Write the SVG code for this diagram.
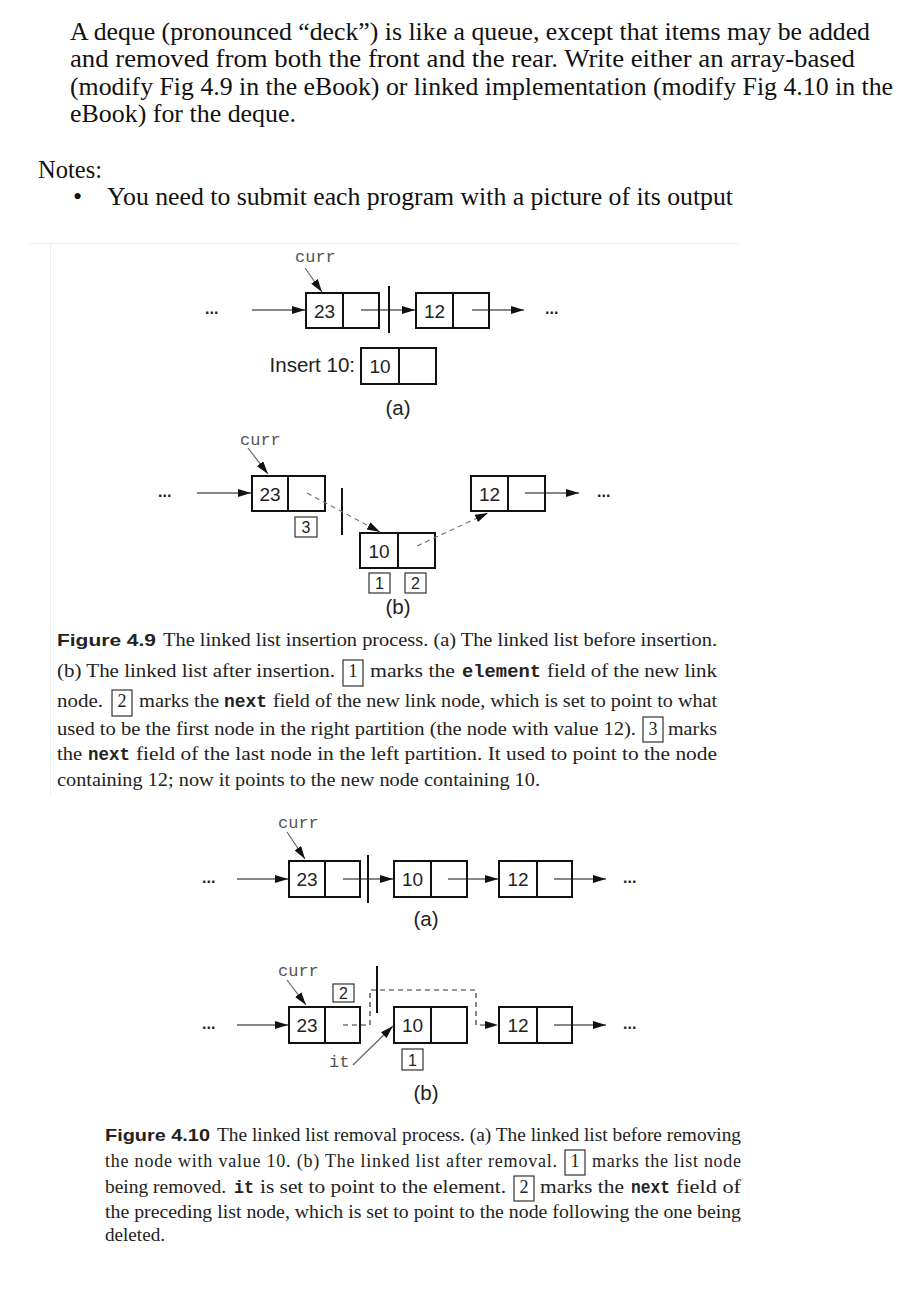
<svg xmlns="http://www.w3.org/2000/svg" width="907" height="1312" viewBox="0 0 907 1312">
<style>
.body{font-family:"Liberation Serif","Times New Roman",serif;font-size:26px;fill:#111}
.cap{font-family:"Liberation Serif","Times New Roman",serif;font-size:18px;fill:#222}
.capb{font-family:"Liberation Sans",Arial,sans-serif;font-size:17px;font-weight:bold;fill:#222}
.capm{font-family:"Liberation Mono","Courier New",monospace;font-size:18px;font-weight:bold;fill:#222}
.lbl{font-family:"Liberation Sans",Arial,sans-serif;font-size:20.5px;fill:#222}
.val{font-family:"Liberation Sans",Arial,sans-serif;font-size:19px;fill:#222;text-anchor:middle}
.sm{font-family:"Liberation Sans",Arial,sans-serif;font-size:16px;fill:#222;text-anchor:middle}
.mono{font-family:"Liberation Mono","Courier New",monospace;font-size:17px;fill:#555}
.dots{font-family:"Liberation Sans",Arial,sans-serif;font-size:16px;font-weight:bold;fill:#222}
.node{fill:#fff;stroke:#111;stroke-width:2}
.div{stroke:#111;stroke-width:2}
.box{fill:#fff;stroke:#333;stroke-width:1.2}
.bar{stroke:#111;stroke-width:2}
.arr{stroke:#111;stroke-width:1.2;fill:none;marker-end:url(#ah)}
.ptr{stroke:#666;stroke-width:1.2;fill:none;marker-end:url(#ah)}
.dash{stroke:#777;stroke-width:1.2;fill:none;stroke-dasharray:5 4;marker-end:url(#ah)}
.dashk{stroke:#333;stroke-width:1.2;fill:none;stroke-dasharray:5 4;marker-end:url(#ah)}
</style>
<defs>
<marker id="ah" viewBox="0 0 13 8" refX="13" refY="4" markerWidth="13" markerHeight="8" markerUnits="userSpaceOnUse" orient="auto">
<path d="M0,0 L13,4 L0,8 z" fill="#111"/>
</marker>
</defs>
<rect width="907" height="1312" fill="#fff"/>

<g id="intro">
<text class="body" x="70" y="40" textLength="800" lengthAdjust="spacingAndGlyphs">A deque (pronounced “deck”) is like a queue, except that items may be added</text>
<text class="body" x="70" y="67" textLength="785" lengthAdjust="spacingAndGlyphs">and removed from both the front and the rear. Write either an array-based</text>
<text class="body" x="70" y="95" textLength="823" lengthAdjust="spacingAndGlyphs">(modify Fig 4.9 in the eBook) or linked implementation (modify Fig 4.10 in the</text>
<text class="body" x="70" y="122" textLength="226" lengthAdjust="spacingAndGlyphs">eBook) for the deque.</text>
<text class="body" x="38" y="178" textLength="64" lengthAdjust="spacingAndGlyphs">Notes:</text>
<text class="body" x="73" y="205">•</text>
<text class="body" x="107" y="205" textLength="626" lengthAdjust="spacingAndGlyphs">You need to submit each program with a picture of its output</text>
</g>

<g id="frame">
<path d="M30,243.5 H738 M50.5,243 V795" stroke="#eeeeee" stroke-width="1" fill="none"/>
</g>

<!-- Figure 4.9 (a) -->
<g id="f49a-curr"><text class="mono" x="295" y="262">curr</text></g>
<g id="f49a-ldots"><text class="dots" x="205" y="314">...</text></g>
<g id="f49a-n23">
<rect class="node" x="306" y="293" width="73" height="35"/><line class="div" x1="343" y1="293" x2="343" y2="328"/>
<text class="val" x="324.5" y="318">23</text></g>
<g id="f49a-bar"><line class="bar" x1="389" y1="286" x2="389" y2="333"/></g>
<g id="f49a-n12">
<rect class="node" x="416" y="293" width="73" height="35"/><line class="div" x1="453" y1="293" x2="453" y2="328"/>
<text class="val" x="434.5" y="318">12</text></g>
<g id="f49a-rdots"><text class="dots" x="545" y="314">...</text></g>
<g id="f49a-insert">
<text class="lbl" x="355" y="372" text-anchor="end">Insert 10:</text>
<rect class="node" x="361" y="348" width="75" height="36"/><line class="div" x1="399" y1="348" x2="399" y2="384"/>
<text class="val" x="380" y="373">10</text></g>
<g id="f49a-label"><text class="lbl" x="398" y="415" text-anchor="middle">(a)</text></g>

<!-- Figure 4.9 (b) -->
<g id="f49b-curr"><text class="mono" x="240" y="445">curr</text></g>
<g id="f49b-ldots"><text class="dots" x="158" y="497">...</text></g>
<g id="f49b-n23">
<rect class="node" x="252" y="476" width="73" height="35"/><line class="div" x1="288" y1="476" x2="288" y2="511"/>
<text class="val" x="270" y="501">23</text></g>
<g id="f49b-box3"><rect class="box" x="295" y="517" width="22" height="20"/><text class="sm" x="306" y="533">3</text></g>
<g id="f49b-bar"><line class="bar" x1="342" y1="488" x2="342" y2="535"/></g>
<g id="f49b-n10">
<rect class="node" x="360" y="533" width="75" height="35"/><line class="div" x1="398" y1="533" x2="398" y2="568"/>
<text class="val" x="379" y="558">10</text></g>
<g id="f49b-box1"><rect class="box" x="369" y="573" width="21" height="20"/><text class="sm" x="379.5" y="589">1</text></g>
<g id="f49b-box2"><rect class="box" x="405" y="573" width="21" height="20"/><text class="sm" x="415.5" y="589">2</text></g>
<g id="f49b-n12">
<rect class="node" x="471" y="476" width="74" height="35"/><line class="div" x1="508" y1="476" x2="508" y2="511"/>
<text class="val" x="489.5" y="501">12</text></g>
<g id="f49b-rdots"><text class="dots" x="597" y="497">...</text></g>
<g id="f49b-label"><text class="lbl" x="398" y="614" text-anchor="middle">(b)</text></g>

<!-- Figure 4.10 (a) -->
<g id="f410a-curr"><text class="mono" x="278" y="828">curr</text></g>
<g id="f410a-ldots"><text class="dots" x="202" y="883">...</text></g>
<g id="f410a-n23">
<rect class="node" x="289" y="861" width="71" height="36"/><line class="div" x1="325" y1="861" x2="325" y2="897"/>
<text class="val" x="307" y="886">23</text></g>
<g id="f410a-bar"><line class="bar" x1="368" y1="855" x2="368" y2="903"/></g>
<g id="f410a-n10">
<rect class="node" x="394" y="861" width="73" height="36"/><line class="div" x1="431" y1="861" x2="431" y2="897"/>
<text class="val" x="412.5" y="886">10</text></g>
<g id="f410a-n12">
<rect class="node" x="499" y="861" width="73" height="36"/><line class="div" x1="537" y1="861" x2="537" y2="897"/>
<text class="val" x="518" y="886">12</text></g>
<g id="f410a-rdots"><text class="dots" x="623" y="883">...</text></g>
<g id="f410a-label"><text class="lbl" x="426" y="926" text-anchor="middle">(a)</text></g>

<!-- Figure 4.10 (b) -->
<g id="f410b-curr"><text class="mono" x="278" y="976">curr</text></g>
<g id="f410b-ldots"><text class="dots" x="202" y="1029">...</text></g>
<g id="f410b-n23">
<rect class="node" x="289" y="1007" width="71" height="36"/><line class="div" x1="325" y1="1007" x2="325" y2="1043"/>
<text class="val" x="307" y="1032">23</text></g>
<g id="f410b-box2"><rect class="box" x="333" y="984" width="21" height="18"/><text class="sm" x="343.5" y="999">2</text></g>
<g id="f410b-bar"><line class="bar" x1="377" y1="966" x2="377" y2="1013"/></g>
<g id="f410b-n10">
<rect class="node" x="394" y="1007" width="73" height="36"/><line class="div" x1="431" y1="1007" x2="431" y2="1043"/>
<text class="val" x="412.5" y="1032">10</text></g>
<g id="f410b-it"><text class="mono" x="329" y="1067">it</text></g>
<g id="f410b-box1"><rect class="box" x="402" y="1049" width="21" height="21"/><text class="sm" x="412.5" y="1066">1</text></g>
<g id="f410b-n12">
<rect class="node" x="499" y="1007" width="73" height="36"/><line class="div" x1="537" y1="1007" x2="537" y2="1043"/>
<text class="val" x="518" y="1032">12</text></g>
<g id="f410b-rdots"><text class="dots" x="623" y="1029">...</text></g>
<g id="f410b-label"><text class="lbl" x="426" y="1100" text-anchor="middle">(b)</text></g>

<g id="connectors">
<line class="ptr" x1="305" y1="268" x2="322" y2="292"/>
<line class="arr" x1="252" y1="310" x2="305" y2="310"/>
<line class="arr" x1="361" y1="310" x2="415" y2="310"/>
<line class="arr" x1="472" y1="310" x2="524" y2="310"/>

<line class="ptr" x1="248" y1="448" x2="268" y2="474"/>
<line class="arr" x1="197" y1="493" x2="251" y2="493"/>
<line class="dash" x1="307" y1="493" x2="380" y2="532"/>
<line class="dash" x1="417" y1="546" x2="488" y2="513"/>
<line class="arr" x1="525" y1="493" x2="579" y2="493"/>

<line class="ptr" x1="287" y1="832" x2="305" y2="859"/>
<line class="arr" x1="237" y1="879" x2="288" y2="879"/>
<line class="arr" x1="343" y1="879" x2="393" y2="879"/>
<line class="arr" x1="448" y1="879" x2="498" y2="879"/>
<line class="arr" x1="554" y1="879" x2="606" y2="879"/>

<line class="ptr" x1="287" y1="980" x2="306" y2="1005"/>
<line class="arr" x1="237" y1="1025" x2="288" y2="1025"/>
<path class="dashk" d="M343,1025 H370 V990 H476 V1025 H498"/>
<line class="ptr" x1="353" y1="1065" x2="393" y2="1026"/>
<line class="arr" x1="554" y1="1025" x2="606" y2="1025"/>
</g>

<g id="caption49">
<text class="capb" x="57" y="646" textLength="99" lengthAdjust="spacingAndGlyphs">Figure 4.9</text>
<text class="cap" x="163" y="646" textLength="554" lengthAdjust="spacingAndGlyphs">The linked list insertion process. (a) The linked list before insertion.</text>
<text class="cap" x="57" y="677" textLength="278" lengthAdjust="spacingAndGlyphs">(b) The linked list after insertion.</text>
<rect class="box" x="343" y="660" width="20" height="26"/><text class="cap" x="353" y="677" text-anchor="middle">1</text>
<text class="cap" x="370" y="677" textLength="85" lengthAdjust="spacingAndGlyphs">marks the</text>
<text class="capm" x="462" y="677" textLength="79" lengthAdjust="spacingAndGlyphs">element</text>
<text class="cap" x="547" y="677" textLength="170" lengthAdjust="spacingAndGlyphs">field of the new link</text>
<text class="cap" x="57" y="707" textLength="46" lengthAdjust="spacingAndGlyphs">node.</text>
<rect class="box" x="112" y="690" width="20" height="26"/><text class="cap" x="122" y="707" text-anchor="middle">2</text>
<text class="cap" x="139" y="707" textLength="80" lengthAdjust="spacingAndGlyphs">marks the</text>
<text class="capm" x="224" y="707" textLength="43" lengthAdjust="spacingAndGlyphs">next</text>
<text class="cap" x="273" y="707" textLength="444" lengthAdjust="spacingAndGlyphs">field of the new link node, which is set to point to what</text>
<text class="cap" x="57" y="735" textLength="579" lengthAdjust="spacingAndGlyphs">used to be the first node in the right partition (the node with value 12).</text>
<rect class="box" x="643" y="717" width="20" height="25"/><text class="cap" x="653" y="735" text-anchor="middle">3</text>
<text class="cap" x="668" y="735" textLength="49" lengthAdjust="spacingAndGlyphs">marks</text>
<text class="cap" x="57" y="760" textLength="25" lengthAdjust="spacingAndGlyphs">the</text>
<text class="capm" x="88" y="760" textLength="42" lengthAdjust="spacingAndGlyphs">next</text>
<text class="cap" x="136" y="760" textLength="581" lengthAdjust="spacingAndGlyphs">field of the last node in the left partition. It used to point to the node</text>
<text class="cap" x="57" y="786" textLength="483" lengthAdjust="spacingAndGlyphs">containing 12; now it points to the new node containing 10.</text>
</g>

<g id="caption410">
<text class="capb" x="105" y="1141" textLength="105" lengthAdjust="spacingAndGlyphs">Figure 4.10</text>
<text class="cap" x="217" y="1141" textLength="524" lengthAdjust="spacingAndGlyphs">The linked list removal process. (a) The linked list before removing</text>
<text class="cap" x="105" y="1167" textLength="452" lengthAdjust="spacing">the node with value 10. (b) The linked list after removal.</text>
<rect class="box" x="565" y="1150" width="20" height="25"/><text class="cap" x="575" y="1167" text-anchor="middle">1</text>
<text class="cap" x="592" y="1167" textLength="149" lengthAdjust="spacing">marks the list node</text>
<text class="cap" x="105" y="1193" textLength="121" lengthAdjust="spacingAndGlyphs">being removed.</text>
<text class="capm" x="234" y="1193" textLength="20" lengthAdjust="spacingAndGlyphs">it</text>
<text class="cap" x="260" y="1193" textLength="246" lengthAdjust="spacingAndGlyphs">is set to point to the element.</text>
<rect class="box" x="514" y="1176" width="20" height="25"/><text class="cap" x="524" y="1193" text-anchor="middle">2</text>
<text class="cap" x="540" y="1193" textLength="84" lengthAdjust="spacingAndGlyphs">marks the</text>
<text class="capm" x="631" y="1193" textLength="39" lengthAdjust="spacingAndGlyphs">next</text>
<text class="cap" x="676" y="1193" textLength="65" lengthAdjust="spacingAndGlyphs">field of</text>
<text class="cap" x="105" y="1218" textLength="636" lengthAdjust="spacingAndGlyphs">the preceding list node, which is set to point to the node following the one being</text>
<text class="cap" x="105" y="1241" textLength="60" lengthAdjust="spacingAndGlyphs">deleted.</text>
</g>
</svg>
